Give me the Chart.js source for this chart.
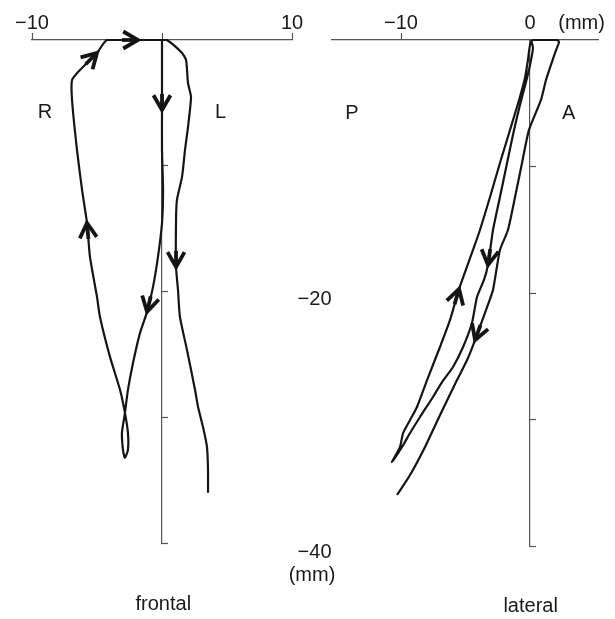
<!DOCTYPE html>
<html>
<head>
<meta charset="utf-8">
<script src="https://cdn.jsdelivr.net/npm/chart.js@4"></script>
<style>
    html, body { margin: 0; padding: 0; background: #fff; }
    #wrap { position: relative; width: 615px; height: 619px; }
    canvas { position: absolute; top: 0; }
    #frontalChart { left: 0; }
    #lateralChart { left: 280px; }
</style>
</head>
<body>
<div id="wrap">
    <canvas id="frontalChart" width="310" height="619"></canvas>
    <canvas id="lateralChart" width="335" height="619"></canvas>
</div>
<script>
// frontal trajectory (mm): down the midline, small loop, back up on the right side, then down on the left side
const frontalX = [0, 0, 0, 0, 0, 0.08, 0, -0.31, -0.69, -1.15, -1.69, -2.23, -2.62, -2.85, -3.08, -3.0, -2.85, -2.62, -2.62, -2.85,
    -3.23, -4.0, -4.77, -5.0, -5.54, -5.77, -6.15, -6.54, -6.92, -6.92, -6.31, -5.0, -4.23, -1.85, 0, 0.38, 1.54, 1.85, 2.0, 2.23,
    2.0, 1.77, 1.54, 1.15, 1.08, 1.08, 1.23, 1.38, 1.92, 2.54, 2.77, 3.15, 3.46, 3.54, 3.54];
const frontalY = [0, -1.59, -4.77, -5.56, -8.74, -11.92, -14.55, -17.25, -19.63, -21.62, -23.29, -25.68, -27.82, -29.65, -31.24, -32.59, -33.23, -32.59, -31.24, -29.65,
    -27.82, -25.2, -22.02, -20.43, -17.25, -14.55, -11.92, -8.74, -4.77, -3.18, -2.38, -1.03, 0, 0, 0, 0, -1.03, -1.59, -3.42, -4.53,
    -6.92, -8.74, -10.89, -12.72, -14.31, -18.04, -19.87, -22.02, -24.64, -27.82, -29.17, -30.76, -32.35, -34.18, -36.01];
const frontalArrows = [3, 9, 25, 31, 33, 45];

// lateral trajectory (mm)
const lateralX = [0.08, 0.23, 0, -0.31, -0.78, -1.24, -1.78, -2.33, -2.87, -3.26, -3.57, -4.11, -4.5, -5.19, -5.97, -6.82, -7.52, -8.53, -9.3, -9.92,
    -10.7, -10.08, -9.84, -9.3, -8.76, -7.98, -6.98, -6.2, -5.5, -4.42, -3.88, -3.1, -2.33, -1.55, -0.85, -0.39, -0.16, 0, 0.23, 2.09,
    2.25, 2.02, 1.24, 0.85, -0.08, -0.62, -1.16, -1.71, -2.33, -2.87, -3.33, -4.26, -4.88, -5.66, -6.9, -8.14, -9.3, -10.31];
const lateralY = [0, -0.63, -1.98, -3.32, -5.14, -7.11, -9.72, -12.41, -15.02, -17.79, -18.97, -20.32, -22.37, -24.27, -25.85, -27.04, -28.22, -29.8, -31.07, -32.17,
    -33.36, -32.17, -31.07, -30.04, -29.01, -26.88, -24.27, -22.13, -19.68, -16.6, -15.02, -12.41, -9.72, -7.11, -4.74, -3.0, -1.58, -0.4, 0, 0,
    -0.16, -0.79, -3.16, -4.74, -7.11, -9.72, -12.41, -15.02, -16.6, -19.76, -21.11, -23.72, -25.3, -26.88, -29.49, -32.17, -34.39, -35.97];
const lateralArrows = [9, 28, 51];

const frontalXTicks = [-10, 0, 10];
const frontalXLabels = ['−10', '', '10'];
const lateralXTicks = [-10, 0, 4.0];
const lateralXLabels = ['−10', '0', '(mm)'];
const yTicks = [-10, -20, -30, -40];
const yLabelTicks = [-20, -40];
const yUnit = '(mm)';

const fonte = { family: '"Liberation Sans", Arial, sans-serif', size: 20 };
const corTexto = '#1a1a1a';
const corEixo = '#555';
const corLinha = '#151515';

const arrowPlugin = {
    id: 'arrows',
    afterDatasetsDraw(chart, args, opts) {
        const pts = chart.getDatasetMeta(0).data;
        const ctx = chart.ctx;
        ctx.save();
        ctx.strokeStyle = corLinha;
        ctx.lineWidth = 3.8;
        ctx.lineJoin = 'miter';
        ctx.lineCap = 'butt';
        opts.indices.forEach(function (i) {
            const tip = pts[i];
            const prev = pts[i - 1];
            let dx = tip.x - prev.x;
            let dy = tip.y - prev.y;
            const len = Math.hypot(dx, dy);
            dx /= len;
            dy /= len;
            const a = Math.PI / 6;
            const L = 17;
            const c = Math.cos(a), s = Math.sin(a);
            const b1x = -dx * c + dy * s, b1y = -dx * s - dy * c;
            const b2x = -dx * c - dy * s, b2y = dx * s - dy * c;
            ctx.beginPath();
            ctx.moveTo(tip.x + b1x * L, tip.y + b1y * L);
            ctx.lineTo(tip.x, tip.y);
            ctx.lineTo(tip.x + b2x * L, tip.y + b2y * L);
            ctx.stroke();
            ctx.beginPath();
            ctx.moveTo(tip.x, tip.y);
            ctx.lineTo(tip.x - dx * 16, tip.y - dy * 16);
            ctx.stroke();
        });
        ctx.restore();
    }
};

const textPlugin = {
    id: 'panelText',
    afterDraw(chart, args, opts) {
        const ctx = chart.ctx;
        const xs = chart.scales.x;
        const ys = chart.scales.y;
        ctx.save();
        ctx.fillStyle = corTexto;
        ctx.font = fonte.size + 'px ' + fonte.family;
        ctx.textAlign = 'center';
        ctx.textBaseline = 'middle';
        opts.items.forEach(function (it) {
            ctx.fillText(it.t, xs.getPixelForValue(it.x), ys.getPixelForValue(it.y));
        });
        ctx.restore();
    }
};

function montarGrafico(canvasId, px, py, setas, xMin, xMax, xTicks, xLabels, hiddenXTicks, padding, textos) {
    const pontos = px.map(function (x, i) { return { x: x, y: py[i] }; });

    new Chart(document.getElementById(canvasId), {
        type: 'scatter',
        data: {
            datasets: [{
                data: pontos,
                showLine: true,
                borderColor: corLinha,
                borderWidth: 2.2,
                pointRadius: 0,
                tension: 0.2,
                clip: false
            }]
        },
        options: {
            responsive: false,
            animation: false,
            events: [],
            layout: { padding: padding },
            plugins: {
                legend: { display: false },
                tooltip: { enabled: false },
                arrows: { indices: setas },
                panelText: { items: textos }
            },
            scales: {
                x: {
                    type: 'linear',
                    position: 'top',
                    min: xMin,
                    max: xMax,
                    afterFit: function (s) { s.height = 40; },
                    afterBuildTicks: function (s) { s.ticks = xTicks.map(function (v) { return { value: v }; }); },
                    ticks: {
                        autoSkip: false,
                        maxRotation: 0,
                        padding: -2,
                        color: corTexto,
                        font: fonte,
                        callback: function (v, i) { return xLabels[i]; }
                    },
                    grid: {
                        drawOnChartArea: false,
                        tickLength: 7,
                        tickWidth: 1.2,
                        tickColor: function (c) { return hiddenXTicks.includes(c.index) ? 'rgba(0,0,0,0)' : corEixo; }
                    },
                    border: { color: corEixo, width: 1.2 }
                },
                y: {
                    type: 'linear',
                    position: { x: 0 },
                    min: -40,
                    max: 0,
                    afterBuildTicks: function (s) { s.ticks = yTicks.map(function (v) { return { value: v }; }); },
                    ticks: { display: false },
                    grid: {
                        drawOnChartArea: false,
                        tickLength: -7,
                        tickWidth: 1.2,
                        tickColor: corEixo
                    },
                    border: { color: corEixo, width: 1.2 }
                }
            }
        },
        plugins: [arrowPlugin, textPlugin]
    });
}

const textosFrontal = [
    { t: 'R', x: -9.0, y: -5.8 },
    { t: 'L', x: 4.5, y: -5.8 },
    { t: 'frontal', x: 0.1, y: -44.9 }
];

const textosLateral = [
    { t: 'P', x: -13.8, y: -5.8 },
    { t: 'A', x: 3.0, y: -5.8 },
    { t: 'lateral', x: 0.05, y: -44.8 }
];
yLabelTicks.forEach(function (v) {
    textosLateral.push({ t: '−' + Math.abs(v), x: -16.7, y: v - 0.55 });
});
textosLateral.push({ t: yUnit, x: -16.9, y: -42.3 });

montarGrafico('frontalChart', frontalX, frontalY, frontalArrows, -10, 10,
    frontalXTicks, frontalXLabels, [], { left: 32, right: 18, top: 0, bottom: 76 }, textosFrontal);

montarGrafico('lateralChart', lateralX, lateralY, lateralArrows, -15.35, 5.27,
    lateralXTicks, lateralXLabels, [1, 2], { left: 52, right: 17, top: 0, bottom: 73 }, textosLateral);
</script>
</body>
</html>
